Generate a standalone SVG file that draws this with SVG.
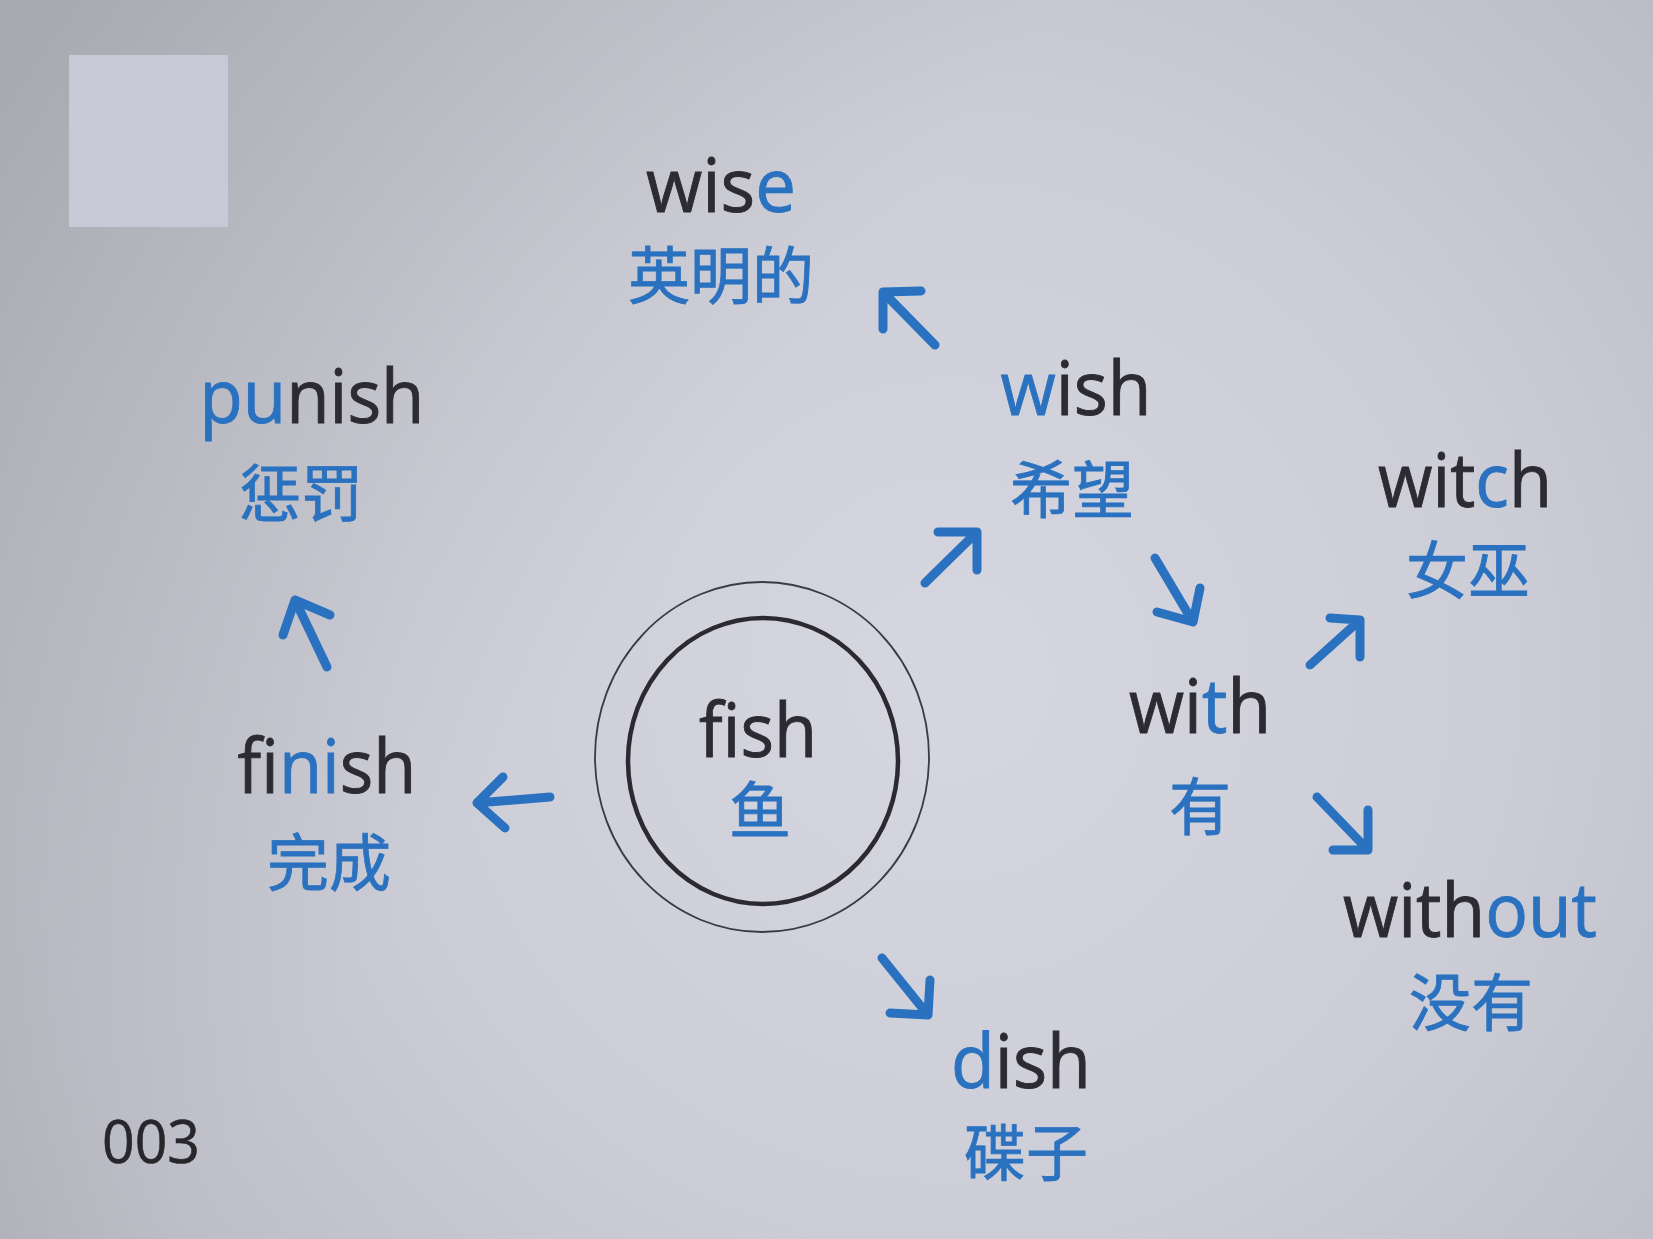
<svg xmlns="http://www.w3.org/2000/svg" width="1653" height="1239" viewBox="0 0 1653 1239">
<defs>
<radialGradient id="bg" cx="950" cy="680" r="1100" gradientUnits="userSpaceOnUse">
<stop offset="0" stop-color="#d6d6e0"/>
<stop offset="0.5" stop-color="#cdcdd7"/>
<stop offset="0.85" stop-color="#bebec8"/>
<stop offset="1" stop-color="#b4b4bc"/>
</radialGradient>
<linearGradient id="shade" x1="0" y1="0" x2="700" y2="500" gradientUnits="userSpaceOnUse">
<stop offset="0" stop-color="#9c9ca2" stop-opacity="0.45"/>
<stop offset="1" stop-color="#9c9ca2" stop-opacity="0"/>
</linearGradient>
<style>
.en{font-family:"Open Sans","Noto Sans",sans-serif;font-size:75px;fill:#2b2b31;stroke:#2b2b31;stroke-width:0.9px;text-anchor:middle}
.b{fill:#2a72c0;stroke:#2a72c0}
.zh{font-family:"Noto Sans CJK SC","Noto Sans",sans-serif;font-size:62px;fill:#2a72c0;stroke:#2a72c0;stroke-width:0.8px;text-anchor:middle}
.arrow{fill:none;stroke:#2a72c0;stroke-width:9;stroke-linecap:round;stroke-linejoin:round}
.num{font-family:"Open Sans","Noto Sans",sans-serif;font-size:60px;fill:#26262b;stroke:#26262b;stroke-width:0.6px}
</style>
</defs>
<rect width="1653" height="1239" fill="url(#bg)"/>
<rect width="1653" height="1239" fill="url(#shade)"/>
<rect id="square" x="69" y="55" width="159" height="172" fill="#c8c8d7"/>

<g id="connectors">
<path class="arrow" d="M935,345 L883,292 M921,291 L883,292 L883,329"/>
<path class="arrow" d="M925,583 L977,532 M938,532 L977,532 L977,570"/>
<path class="arrow" d="M1155,558 L1193,622 M1157,612 L1193,622 L1200,588"/>
<path class="arrow" d="M1310,665 L1360,620 M1330,618 L1360,620 L1360,657"/>
<path class="arrow" d="M1317,797 L1368,850 M1333,850 L1368,850 L1368,810"/>
<path class="arrow" d="M882,958 L928,1015 M890,1013 L928,1015 L930,980"/>
<path class="arrow" d="M550,797 L477,803 M503,777 L477,803 L505,828"/>
<path class="arrow" d="M327,667 L295,600 M283,635 L295,600 L330,615"/>
</g>

<g id="node-fish">
<ellipse cx="762" cy="757" rx="167" ry="175" fill="none" stroke="#3a3a41" stroke-width="1.8"/>
<ellipse cx="763" cy="761" rx="135" ry="143" fill="none" stroke="#2a2a30" stroke-width="4.5"/>
<text class="en" x="758" y="757" textLength="118" lengthAdjust="spacingAndGlyphs">fish</text>
<text class="zh" x="760" y="834">鱼</text>
</g>

<g id="node-wise">
<text class="en" x="721" y="212" textLength="150" lengthAdjust="spacingAndGlyphs">wis<tspan class="b">e</tspan></text>
<text class="zh" x="721" y="299">英明的</text>
</g>

<g id="node-punish">
<text class="en" x="312" y="423" textLength="225" lengthAdjust="spacingAndGlyphs"><tspan class="b">pu</tspan>nish</text>
<text class="zh" x="301" y="517">惩罚</text>
</g>

<g id="node-finish">
<text class="en" x="327" y="793" textLength="179" lengthAdjust="spacingAndGlyphs">fi<tspan class="b">ni</tspan>sh</text>
<text class="zh" x="329" y="886">完成</text>
</g>

<g id="node-wish">
<text class="en" x="1076" y="415" textLength="151" lengthAdjust="spacingAndGlyphs"><tspan class="b">w</tspan>ish</text>
<text class="zh" x="1072" y="513">希望</text>
</g>

<g id="node-with">
<text class="en" x="1200" y="733" textLength="142" lengthAdjust="spacingAndGlyphs">wi<tspan class="b">t</tspan>h</text>
<text class="zh" x="1200" y="830">有</text>
</g>

<g id="node-witch">
<text class="en" x="1465" y="507" textLength="174" lengthAdjust="spacingAndGlyphs">wit<tspan class="b">c</tspan>h</text>
<text class="zh" x="1468" y="594">女巫</text>
</g>

<g id="node-without">
<text class="en" x="1470" y="937" textLength="254" lengthAdjust="spacingAndGlyphs">with<tspan class="b">out</tspan></text>
<text class="zh" x="1471" y="1026">没有</text>
</g>

<g id="node-dish">
<text class="en" x="1021" y="1088" textLength="140" lengthAdjust="spacingAndGlyphs"><tspan class="b">d</tspan>ish</text>
<text class="zh" x="1026" y="1176">碟子</text>
</g>

<text class="num" x="102" y="1163" textLength="98" lengthAdjust="spacingAndGlyphs">003</text>
</svg>
